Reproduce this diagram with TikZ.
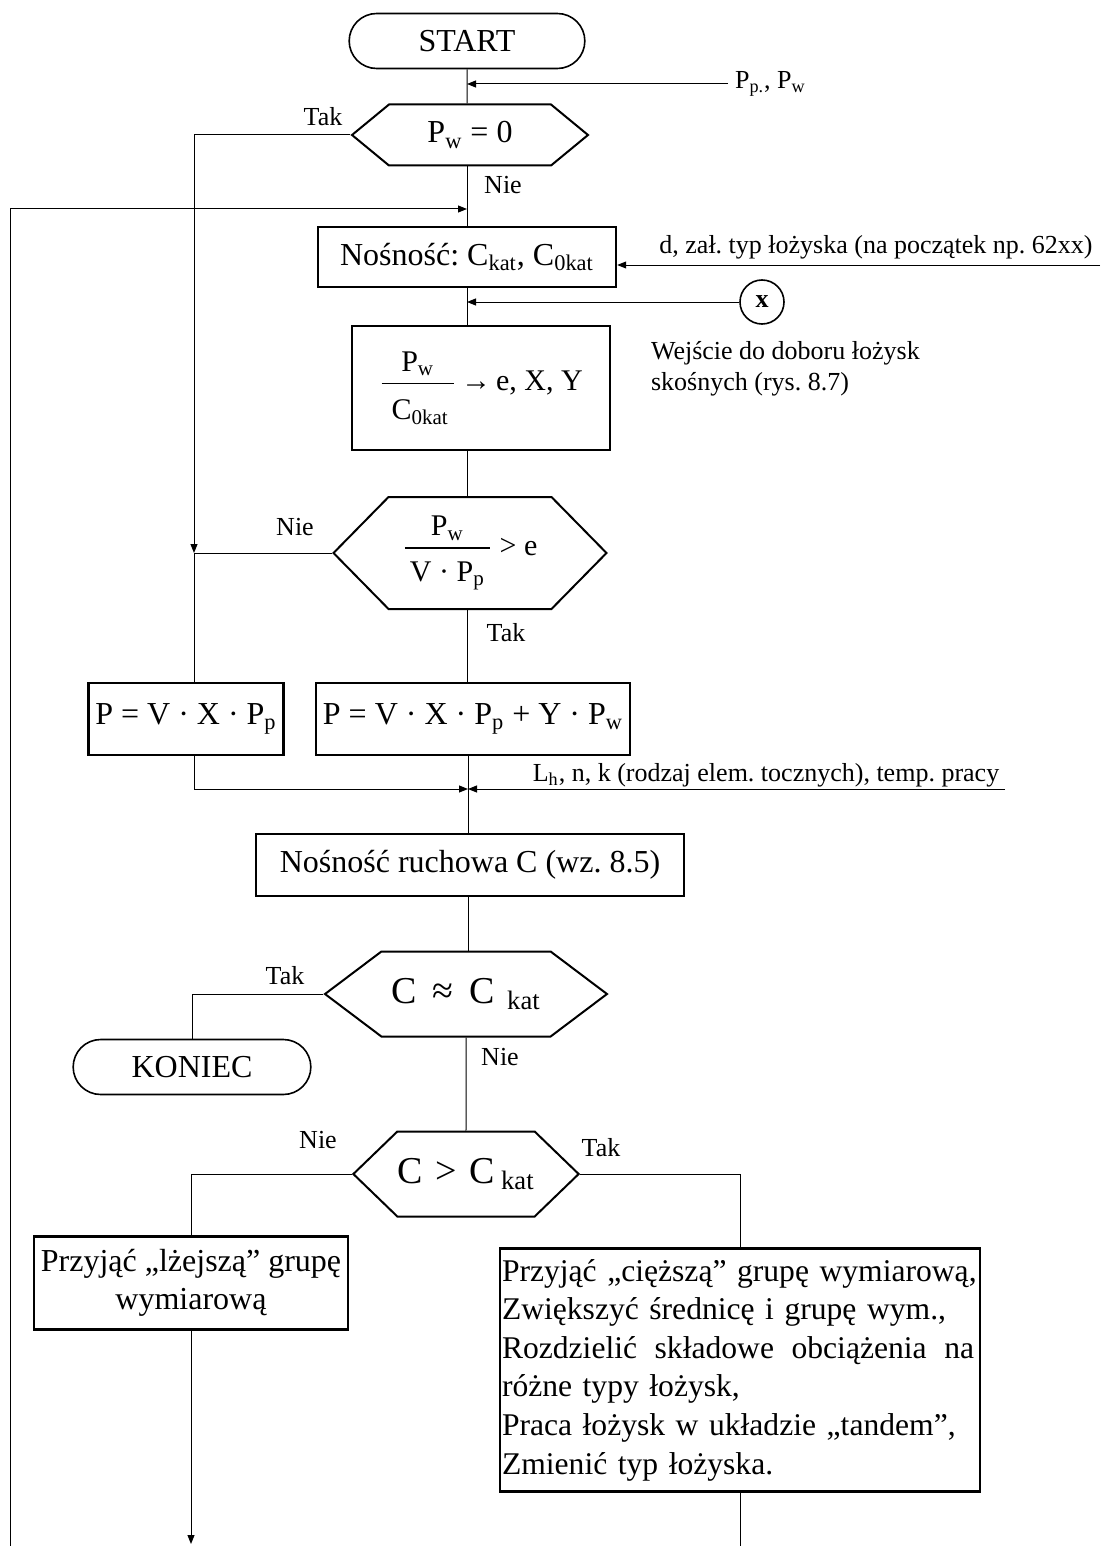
\documentclass[tikz,border=0pt]{standalone}
\usepackage{tikz}
\usetikzlibrary{arrows, arrows.meta}
\usetikzlibrary{shapes.misc, shapes.symbols}
\usepackage{amsmath}
\usepackage{fontspec}
\setmainfont{Liberation Serif}
\usepackage{xcolor}
\frenchspacing
\hyphenpenalty=10000

\tikzset{
	terminal/.style={draw, line width=0.8pt, rounded rectangle, minimum height=27.5pt, font=\fontsize{16}{19}\selectfont},
	process/.style={draw, line width=1.2pt, rectangle, font=\fontsize{16}{19.3}\selectfont},
	decision/.style={draw, line width=1pt, signal, signal to=east and west, inner sep=1pt, font=\fontsize{16}{19}\selectfont},
	connector/.style={draw, line width=0.8pt, circle, minimum size=22pt, inner sep=0pt, font=\fontsize{13}{15}\selectfont\bfseries},
	answer/.style={font=\fontsize{13}{15}\selectfont},
	note/.style={font=\fontsize{13}{15.5}\selectfont, align=left},
	flow/.style={line width=0.5pt}
}

\begin{document}
\begin{tikzpicture}[x=0.5pt, y=-0.5pt, >={Triangle[length=4.5pt, width=3.5pt]}] % dobor lozysk
	
	\useasboundingbox (0,0) rectangle (1100,1546);
	
	%blocks
	\node[terminal, minimum width=124.5pt] (start) at (467,41) {START};
	\node[decision, minimum width=118pt, minimum height=30.5pt, signal pointer angle=79] (dec1) at (470,135) {P\textsubscript{w} = 0};
	\node[process, minimum width=149pt, minimum height=30pt] (box1) at (467,257) {Nośność: C\textsubscript{kat}, C\textsubscript{0kat}};
	\node[connector] (xc) at (762,302) {x};
	\node[process, minimum width=129pt, minimum height=62pt, font=\fontsize{15}{18}\selectfont] (box2) at (481,388) {$\dfrac{\text{P\textsubscript{w}}}{\rule{0pt}{16pt}\text{\,\,C\textsubscript{0kat}\,}}$\,→\,e, X, Y};
	\node[decision, minimum width=136.5pt, minimum height=56pt, signal pointer angle=91, font=\fontsize{15}{18}\selectfont] (dec2) at (470,553) {$\dfrac{\text{P\textsubscript{w}}}{\rule{0pt}{14.5pt}\text{\,V · P\textsubscript{p}\,}}$ > e};
	\node[process, minimum width=97pt, minimum height=36pt] (pl) at (186,719) {P = V · X · P\textsubscript{p}};
	\node[process, minimum width=155.5pt, minimum height=36pt] (pr) at (473,719) {P = V · X · P\textsubscript{p} + Y · P\textsubscript{w}};
	\node[process, minimum width=214pt, minimum height=31pt] (box3) at (470,865) {Nośność ruchowa C (wz. 8.5)};
	\node[decision, minimum width=141pt, minimum height=42.5pt, signal pointer angle=74, font=\fontsize{19}{22}\selectfont] (dec3) at (466,994) {C\, ≈\, C\,\,\textsubscript{kat}};
	\node[terminal, minimum width=125.5pt] (kon) at (192,1067) {KONIEC};
	\node[decision, minimum width=110pt, minimum height=42.5pt, signal pointer angle=88, inner xsep=0pt, font=\fontsize{19}{22}\selectfont] (dec4) at (466,1174) {C\,\,>\,\,C\,\textsubscript{kat}};
	\node[process, minimum width=155.5pt, minimum height=46.5pt, align=center] (lz) at (191,1283) {Przyjąć „lżejszą” grupę\\wymiarową};
	\node[process, minimum width=240pt, minimum height=121.5pt, text width=238pt, inner xsep=1pt, align=left, font=\fontsize{15.8}{19.3}\selectfont] (cz) at (740,1370) {Przyjąć „cięższą” grupę wymiarową,\\Zwiększyć średnicę i grupę wym.,\\\leavevmode\hbox to 236pt{Rozdzielić\hfil\ składowe\hfil\ obciążenia\hfil\ na}\\różne typy łożysk,\\Praca łożysk w układzie „tandem”,\\Zmienić typ łożyska.};
	
	%inputs
	\node[note, anchor=west] (pp) at (728,84) {P\textsubscript{p.}, P\textsubscript{w}};
	\node[note] (dlab) at (876,247) {d, zał. typ łożyska (na początek np. 62xx)};
	\node[note, anchor=north west] (xlab) at (644,334) {Wejście do doboru łożysk\\skośnych (rys. 8.7)};
	\node[note] (llab) at (766,775) {L\textsubscript{h}, n, k (rodzaj elem. tocznych), temp. pracy};
	
	\coordinate (din) at (1100,265);
	\coordinate (lin) at (1005,789);
	\coordinate (lb) at (10,1546);
	\coordinate (lt) at (10,209);
	\coordinate (j1) at (194,553);
	\coordinate (j2) at (468,789);
	\coordinate (lend) at (191,1544);
	\coordinate (cend) at (740,1546);
	
	%labels
	\node[answer] (t1) at (323,117) {Tak};
	\node[answer] (n1) at (503,185) {Nie};
	\node[answer] (n2) at (295,527) {Nie};
	\node[answer] (t2) at (506,633) {Tak};
	\node[answer] (t3) at (285,976) {Tak};
	\node[answer] (n3) at (500,1057) {Nie};
	\node[answer] (n4) at (318,1140) {Nie};
	\node[answer] (t4) at (601,1148) {Tak};
	
	%arrows
	\draw[flow] (start) -- (start |- dec1.north);
	\draw[flow, ->] (pp.west) -- (pp.west -| start);
	\draw[flow] (start |- dec1.south) -- (box1);
	\draw[flow, ->] (lb) -- (lt) -- (lt -| start);
	\draw[flow, ->] (din) -- (din -| box1.east);
	\draw[flow] (box1) -- (box1 |- box2.north);
	\draw[flow, ->] (xc) -- (xc -| box1);
	\draw[flow] (box1 |- box2.south) -- (box1 |- dec2.north);
	\draw[flow, ->] (dec1.west) -| (j1);
	\draw[flow] (dec2.west) -- (j1) -- (j1 |- pl.north);
	\draw[flow] (box1 |- dec2.south) -- (box1 |- pr.north);
	\draw[flow, ->] (j1 |- pl.south) |- (j2);
	\draw[flow, ->] (lin) -- (j2);
	\draw[flow] (j2 |- pr.south) -- (j2 |- box3.north);
	\draw[flow] (j2 |- box3.south) -- (j2 |- dec3.north);
	\draw[flow] (dec3.west) -| (kon);
	\draw[flow] (dec3) -- (dec4);
	\draw[flow] (dec4.west) -| (lz);
	\draw[flow] (dec4.east) -| (cz);
	\draw[flow, ->] (lz) -- (lend);
	\draw[flow] (cz) -- (cend);
	
\end{tikzpicture}
\end{document}
